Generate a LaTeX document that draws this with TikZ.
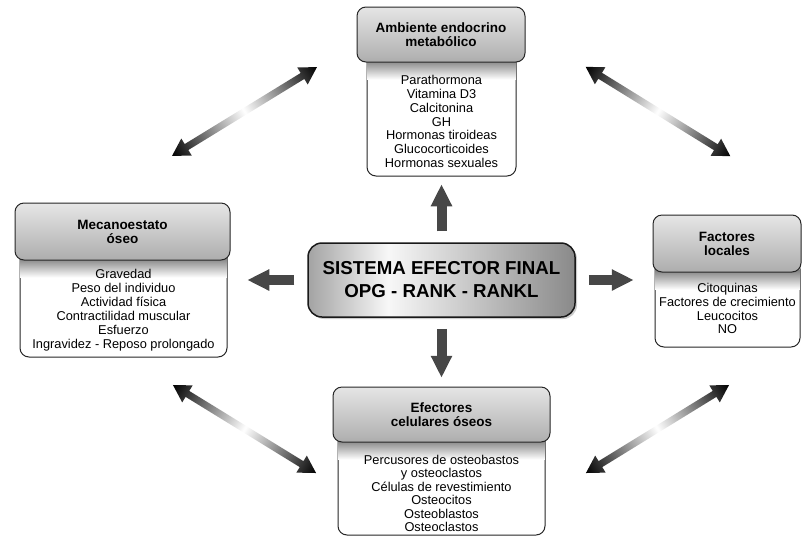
\documentclass[tikz,border=0pt]{standalone}
\usepackage{fontspec}
\setmainfont{Liberation Sans}
\usetikzlibrary{arrows.meta,shadows}

\pgfdeclarehorizontalshading{ctrshade}{100bp}{color(0bp)=(black!36); color(25bp)=(black!36);
  color(40bp)=(black!3); color(75bp)=(black!46); color(100bp)=(black!46)}

\newcommand\mydblarrow[3]{%
  \begin{scope}[transform canvas={shift={(#1)},rotate=#2}]
    \shade[dbl] ({-#3},0) -- ({-#3+17},-10) -- ({-#3+17},-3.5) -- ({#3-17},-3.5) -- ({#3-17},-10)
      -- ({#3},0) -- ({#3-17},10) -- ({#3-17},3.5) -- ({-#3+17},3.5) -- ({-#3+17},10) -- cycle;
  \end{scope}}
\newcommand\mystrip[1]{%
  \shade[top color=black!48, bottom color=white]
    ([xshift=0.6pt,yshift=-11pt]#1.north west) rectangle ([xshift=-0.6pt,yshift=-30pt]#1.north east);}

\begin{document}
\begin{tikzpicture}[x=1pt,y=-1pt,
  hdr/.style={draw=black!85, line width=1pt, rounded corners=9pt, top color=black!10,
    bottom color=black!32, inner sep=0pt, align=center,
    font=\fontsize{13.5}{14}\selectfont\bfseries},
  bodybox/.style={draw=black!85, line width=1pt, rounded corners=9pt, fill=white, inner sep=0pt},
  bodytxt/.style={align=center, inner sep=0pt, font=\fontsize{12.8}{13.9}\selectfont},
  blockarrow/.style={line width=10pt, draw=black!72, -{Triangle[width=20pt,length=22pt]}},
  dbl/.style={left color=black, right color=black, middle color=white}
]
\useasboundingbox (0,0) rectangle (803,539);

% top box
\node[bodybox, minimum width=149pt, minimum height=126pt] (tb) at (441.5,113) {};
\mystrip{tb}
\node[hdr, minimum width=168pt, minimum height=55pt] (th) at (441,34.5) {Ambiente endocrino\\metabólico};
\node[bodytxt] (tt) at (441.5,121.5) {Parathormona\\Vitamina D3\\Calcitonina\\GH\\Hormonas tiroideas\\Glucocorticoides\\Hormonas sexuales};

% left box
\node[bodybox, minimum width=207pt, minimum height=109pt] (lb) at (123.5,302.5) {};
\mystrip{lb}
\node[hdr, minimum width=215pt, minimum height=57pt] (lh) at (122.5,231.5) {Mecanoestato\\óseo};
\node[bodytxt] (lt) at (123.5,310) {Gravedad\\Peso del individuo\\Actividad física\\Contractilidad muscular\\Esfuerzo\\Ingravidez - Reposo prolongado};

% right box
\node[bodybox, minimum width=145pt, minimum height=87pt] (rb) at (727.5,303.5) {};
\mystrip{rb}
\node[hdr, minimum width=148pt, minimum height=57pt] (rh) at (727,243.5) {Factores\\locales};
\node[bodytxt] (rt) at (727.5,308.5) {Citoquinas\\Factores de crecimiento\\Leucocitos\\NO};

% bottom box
\node[bodybox, minimum width=207pt, minimum height=105pt] (bb) at (441.5,482.5) {};
\mystrip{bb}
\node[hdr, minimum width=217pt, minimum height=55pt] (bh) at (441.5,414.5) {Efectores\\celulares óseos};
\node[bodytxt, font=\fontsize{12.8}{13.4}\selectfont] (bt) at (441.5,493.5) {Percusores de osteobastos\\y osteoclastos\\Células de revestimiento\\Osteocitos\\Osteoblastos\\Osteoclastos};

% center
\node[draw=black!90, line width=1.5pt, rounded corners=14pt, shading=ctrshade,
  minimum width=267pt, minimum height=74pt,
  drop shadow={shadow xshift=2pt, shadow yshift=-2pt, opacity=0.4}, align=center,
  font=\fontsize{18.7}{23}\selectfont\bfseries] (c) at (441.5,280) {SISTEMA EFECTOR FINAL\\OPG - RANK - RANKL};

% block arrows
\draw[blockarrow] ([yshift=11pt]c.north) -- ([yshift=58pt]c.north);
\draw[blockarrow] ([yshift=-11pt]c.south) -- ([yshift=-60pt]c.south);
\draw[blockarrow] ([xshift=-13pt]c.west) -- ([xshift=-60pt]c.west);
\draw[blockarrow] ([xshift=13pt]c.east) -- ([xshift=58pt]c.east);

% diagonal double arrows
\coordinate (d1) at (244.5,111.5);
\coordinate (d2) at (658,111.5);
\coordinate (d3) at (244.5,429);
\coordinate (d4) at (657.5,429);
\mydblarrow{d1}{31.5}{85}
\mydblarrow{d2}{-31.7}{85}
\mydblarrow{d3}{-31.6}{84}
\mydblarrow{d4}{31.6}{84}
\end{tikzpicture}
\end{document}
